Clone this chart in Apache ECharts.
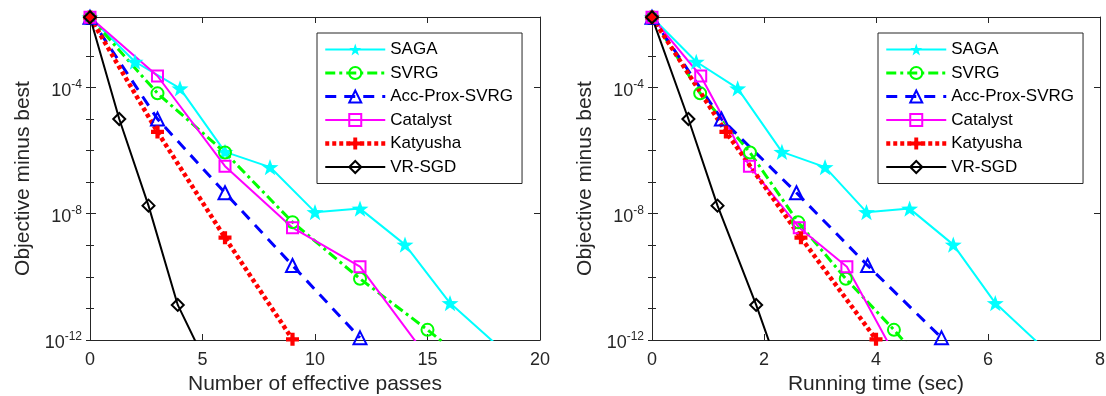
<!DOCTYPE html>
<html>
<head>
<meta charset="utf-8">
<script src="https://cdn.jsdelivr.net/npm/echarts@6/dist/echarts.min.js"></script>
<style>
  html, body { margin: 0; background: #fff; }
  #chart { width: 1106px; height: 396px; }
</style>
</head>
<body>
<div id="chart"></div>
<script>
// x: number of effective passes / running time (sec), y: objective minus best
const sagaPasses = [0, 2, 4, 6, 8, 10, 12, 14, 16, 18];
const sagaTime = [0, 0.79, 1.53, 2.32, 3.09, 3.83, 4.6, 5.38, 6.13, 6.9];
const sagaGap = [1.66e-2, 6.5e-4, 9.3e-5, 9.1e-7, 3.0e-7, 1.12e-8, 1.45e-8, 1.05e-9, 1.48e-11, 7.9e-13];

const svrgPasses = [0, 3, 6, 9, 12, 15, 18];
const svrgTime = [0, 0.86, 1.75, 2.61, 3.46, 4.32, 5.18];
const svrgGap = [1.66e-2, 6.5e-5, 8.7e-7, 5.4e-9, 8.7e-11, 2.1e-12, 4.0e-14];

const accPasses = [0, 3, 6, 9, 12];
const accTime = [0, 1.24, 2.58, 3.85, 5.17];
const accGap = [1.66e-2, 1.0e-5, 4.6e-8, 2.3e-10, 1.17e-12];

const catalystPasses = [0, 3, 6, 9, 12, 15];
const catalystTime = [0, 0.87, 1.74, 2.63, 3.48, 4.36];
const catalystGap = [1.66e-2, 2.3e-4, 3.2e-7, 3.6e-9, 2.1e-10, 2.8e-13];

const katyushaPasses = [0, 3, 6, 9];
const katyushaTime = [0, 1.32, 2.66, 4.0];
const katyushaGap = [1.66e-2, 3.9e-6, 1.74e-9, 1.05e-12];

const vrsgdPasses = [0, 1.3, 2.6, 3.9, 5.2];
const vrsgdTime = [0, 0.65, 1.17, 1.86, 2.24];
const vrsgdGap = [1.66e-2, 1.0e-5, 1.8e-8, 1.29e-11, 1.6e-13];

const methodNames = ['SAGA', 'SVRG', 'Acc-Prox-SVRG', 'Catalyst', 'Katyusha', 'VR-SGD'];
const yBottom = 1e-12;
const yTop = 1.7e-2;

const FONT = '"Liberation Sans", Arial, Helvetica, sans-serif';
const AX = '#262626';

const STAR = 'path://M0,-10L2.35,-3.24L9.51,-3.09L3.8,1.24L5.88,8.09L0,4L-5.88,8.09L-3.8,1.24L-9.51,-3.09L-2.35,-3.24Z';
const PLUS = 'path://M-1.3,-4H1.3V-1.3H4V1.3H1.3V4H-1.3V1.3H-4V-1.3H-1.3Z';

const styles = {
  'SAGA': { color: '#00ffff', type: 'solid', width: 2, symbol: STAR, size: 17, hollow: false },
  'SVRG': { color: '#00ff00', type: [10, 4, 3, 4], width: 3, symbol: 'circle', size: 12, hollow: true },
  'Acc-Prox-SVRG': { color: '#0000ff', type: [11, 8], width: 3, symbol: 'triangle', size: 13, hollow: true },
  'Catalyst': { color: '#ff00ff', type: 'solid', width: 2, symbol: 'rect', size: 11, hollow: true },
  'Katyusha': { color: '#ff0000', type: [4, 3], width: 4.5, symbol: PLUS, size: 13, hollow: false },
  'VR-SGD': { color: '#000000', type: 'solid', width: 2, symbol: 'diamond', size: 12, hollow: true }
};

function markerStyle(s) {
  return s.hollow
    ? { color: 'rgba(255,255,255,0)', borderColor: s.color, borderWidth: 2 }
    : { color: s.color, borderWidth: 0 };
}

function makeSeries(name, xs, ys, gi) {
  const s = styles[name];
  return {
    name: name,
    type: 'line',
    xAxisIndex: gi * 2,
    yAxisIndex: gi * 4,
    data: xs.map((x, i) => [x, Math.log10(ys[i])]),
    color: s.color,
    symbol: s.symbol,
    symbolSize: s.size,
    symbolKeepAspect: true,
    showAllSymbol: true,
    clip: true,
    lineStyle: { color: s.color, width: s.width, type: s.type, cap: 'butt' },
    itemStyle: markerStyle(s),
    emphasis: { disabled: true },
    z: 3
  };
}

function xAxes(gi, max, interval, name) {
  const base = {
    type: 'value', gridIndex: gi, min: 0, max: max, interval: interval,
    axisLine: { show: true, onZero: false, lineStyle: { color: AX, width: 1 } },
    axisTick: { show: true, inside: true, length: 6, lineStyle: { color: AX } },
    splitLine: { show: false }
  };
  return [
    Object.assign({}, base, {
      position: 'bottom',
      axisLabel: { color: AX, fontSize: 18, fontFamily: FONT, margin: 11 },
      name: name, nameLocation: 'middle', nameGap: 34,
      nameTextStyle: { color: AX, fontSize: 21, fontFamily: FONT }
    }),
    Object.assign({}, base, { position: 'top', axisLabel: { show: false } })
  ];
}

function yAxes(gi) {
  const lo = Math.log10(yBottom), hi = Math.log10(yTop);
  const base = {
    type: 'value', gridIndex: gi, min: lo, max: hi,
    splitLine: { show: false }
  };
  const major = {
    interval: 4,
    axisLine: { show: true, onZero: false, lineStyle: { color: AX, width: 1 } },
    axisTick: { show: true, inside: true, length: 6, lineStyle: { color: AX } }
  };
  const minor = {
    interval: 1,
    axisLine: { show: false },
    axisTick: { show: true, inside: true, length: 4, lineStyle: { color: AX } },
    axisLabel: { show: false }
  };
  return [
    Object.assign({}, base, major, {
      position: 'left',
      axisLabel: {
        margin: 8,
        formatter: v => (Math.abs(v % 4) < 1e-9 ? '{b|10}{s|' + v + '}' : ''),
        rich: {
          b: { fontSize: 18, color: AX, fontFamily: FONT, lineHeight: 18, padding: [7, 0, 0, 0] },
          s: { fontSize: 12, color: AX, fontFamily: FONT, lineHeight: 12, padding: [0, 0, 6, 0] }
        }
      },
      name: 'Objective minus best', nameLocation: 'middle', nameGap: 56,
      nameTextStyle: { color: AX, fontSize: 21, fontFamily: FONT }
    }),
    Object.assign({}, base, minor, { position: 'left' }),
    Object.assign({}, base, major, { position: 'right', axisLabel: { show: false } }),
    Object.assign({}, base, minor, { position: 'right' })
  ];
}

function makeLegend(left) {
  return {
    left: left, top: 33, orient: 'vertical',
    data: methodNames.map(n => ({
      name: n,
      itemStyle: markerStyle(styles[n]),
      lineStyle: { color: styles[n].color, width: styles[n].width, type: styles[n].type }
    })),
    selectedMode: false,
    itemWidth: 60, itemHeight: 15, itemGap: 6.5,
    padding: [8, 9, 8, 6],
    borderColor: AX, borderWidth: 1, backgroundColor: '#fff',
    textStyle: { color: '#000', fontSize: 17, fontFamily: FONT },
    z: 10
  };
}

const passSets = [sagaPasses, svrgPasses, accPasses, catalystPasses, katyushaPasses, vrsgdPasses];
const timeSets = [sagaTime, svrgTime, accTime, catalystTime, katyushaTime, vrsgdTime];
const gapSets = [sagaGap, svrgGap, accGap, catalystGap, katyushaGap, vrsgdGap];

const series = [];
methodNames.forEach((n, i) => series.push(makeSeries(n, passSets[i], gapSets[i], 0)));
methodNames.forEach((n, i) => series.push(makeSeries(n, timeSets[i], gapSets[i], 1)));

const option = {
  animation: false,
  backgroundColor: '#fff',
  grid: [
    { left: 90, right: 566, top: 17, bottom: 56, outerBoundsMode: 'none' },
    { left: 652, right: 6, top: 17, bottom: 56, outerBoundsMode: 'none' }
  ],
  legend: [makeLegend(317), makeLegend(878)],
  xAxis: xAxes(0, 20, 5, 'Number of effective passes').concat(xAxes(1, 8, 2, 'Running time (sec)')),
  yAxis: yAxes(0).concat(yAxes(1)),
  series: series
};

const myChart = echarts.init(document.getElementById('chart'));
myChart.setOption(option);
</script>
</body>
</html>
